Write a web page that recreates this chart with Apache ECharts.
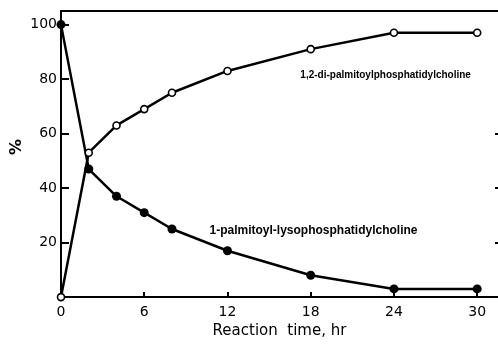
<!DOCTYPE html>
<html>
<head>
<meta charset="utf-8">
<script src="https://cdn.jsdelivr.net/npm/echarts@6/dist/echarts.min.js"></script>
<style>html,body{margin:0;padding:0;background:#fff}#c{width:498px;height:344px}</style>
</head>
<body>
<div id="c"></div>
<script>
var times = [0, 2, 4, 6, 8, 12, 18, 24, 30];
var diPalmitoylPC = [0, 53, 63, 69, 75, 83, 91, 97, 97];
var lysoPC = [100, 47, 37, 31, 25, 17, 8, 3, 3];
var xTicks = [0, 6, 12, 18, 24, 30];
var yTicks = [20, 40, 60, 80, 100];
var diLabel = '1,2-di-palmitoylphosphatidylcholine';
var lysoLabel = '1-palmitoyl-lysophosphatidylcholine';

function pairs(xs, ys) { return xs.map(function (x, i) { return [x, ys[i]]; }); }

var chart = echarts.init(document.getElementById('c'), null, { renderer: 'canvas' });
var tickFont = { color: '#000', fontFamily: 'DejaVu Sans', fontSize: 14 };
chart.setOption({
  animation: false,
  backgroundColor: '#fff',
  grid: { left: 61, right: 0, top: 11, bottom: 42 },
  xAxis: [{
    type: 'value', min: 0, max: 31.5, position: 'bottom',
    name: 'Reaction  time, hr', nameLocation: 'middle', nameGap: 21,
    nameTextStyle: { color: '#000', fontFamily: 'DejaVu Sans', fontSize: 15 },
    axisLine: { show: true, onZero: false, lineStyle: { color: '#000', width: 2 } },
    axisTick: { show: true, inside: true, length: 5, lineStyle: { color: '#000', width: 2 }, customValues: xTicks },
    axisLabel: Object.assign({ margin: 8, customValues: xTicks }, tickFont),
    splitLine: { show: false }
  }, {
    type: 'value', min: 0, max: 31.5, position: 'top',
    axisLine: { show: true, onZero: false, lineStyle: { color: '#000', width: 2 } },
    axisTick: { show: false }, axisLabel: { show: false }, splitLine: { show: false }
  }],
  yAxis: [{
    type: 'value', min: 0, max: 105, position: 'left',
    axisLine: { show: true, onZero: false, lineStyle: { color: '#000', width: 2 } },
    axisTick: { show: true, inside: true, length: 8, lineStyle: { color: '#000', width: 2 }, customValues: yTicks },
    axisLabel: Object.assign({ margin: 4, customValues: yTicks }, tickFont),
    splitLine: { show: false }
  }, {
    type: 'value', min: 0, max: 105, position: 'right',
    axisLine: { show: false, onZero: false },
    axisTick: { show: true, inside: true, length: 3, lineStyle: { color: '#000', width: 2 }, customValues: [20, 40, 60] },
    axisLabel: { show: false }, splitLine: { show: false }
  }],
  graphic: [{
    type: 'text', x: 17, y: 147, rotation: Math.PI / 2,
    style: { text: '%', fill: '#000', font: 'bold 16px "DejaVu Sans"', textAlign: 'center', textVerticalAlign: 'middle' }
  }],
  series: [{
    type: 'line', name: diLabel, data: pairs(times, diPalmitoylPC),
    symbol: 'circle', symbolSize: 7, showAllSymbol: true,
    itemStyle: { color: '#fff', borderColor: '#000', borderWidth: 1.6 },
    lineStyle: { color: '#000', width: 2.5 }, z: 3,
    markPoint: {
      symbol: 'circle', symbolSize: 0,
      label: { show: true, position: 'inside', formatter: diLabel, color: '#000', fontFamily: 'Liberation Sans', fontWeight: 'bold', fontSize: 10 },
      data: [{ coord: [23.4, 81.5] }]
    }
  }, {
    type: 'line', name: lysoLabel, data: pairs(times, lysoPC),
    symbol: 'circle', symbolSize: 9, showAllSymbol: true,
    itemStyle: { color: '#000' },
    lineStyle: { color: '#000', width: 2.5 }, z: 2,
    markPoint: {
      symbol: 'circle', symbolSize: 0,
      label: { show: true, position: 'inside', formatter: lysoLabel, color: '#000', fontFamily: 'Liberation Sans', fontWeight: 'bold', fontSize: 12 },
      data: [{ coord: [18.2, 24.5] }]
    }
  }]
});
</script>
</body>
</html>
